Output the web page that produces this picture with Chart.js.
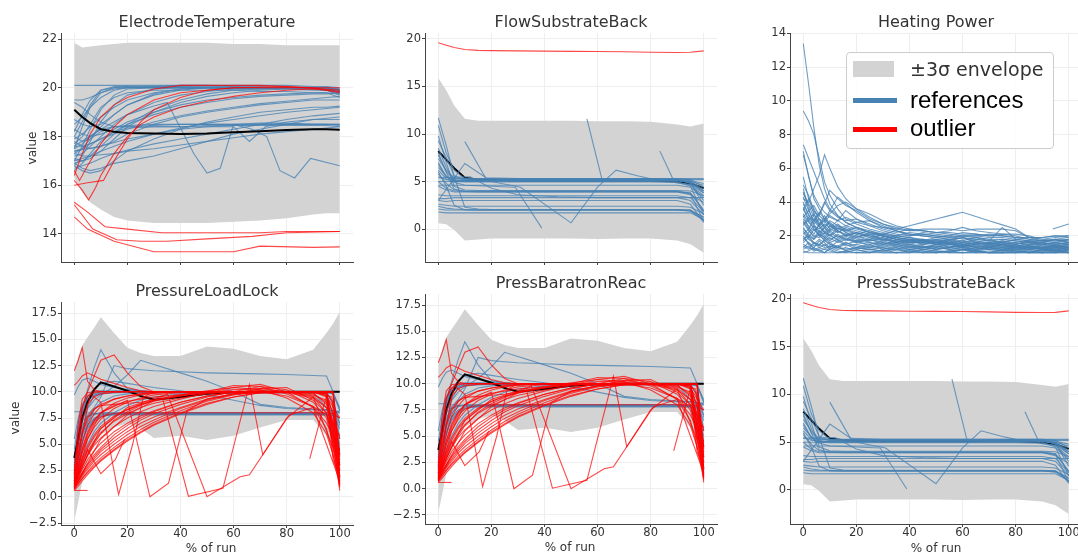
<!DOCTYPE html>
<html>
<head>
<meta charset="utf-8">
<script src="https://cdn.jsdelivr.net/npm/chart.js@4.4.1/dist/chart.umd.min.js"></script>
<style>
  body { margin: 0; width: 1078px; height: 555px; overflow: hidden; background: #fff; position: relative;
         font-family: "DejaVu Sans", sans-serif; color: #333; }
  canvas { position: absolute; }
  .lbl { position: absolute; transform: translate(-50%, -50%); white-space: nowrap; }
  .title { font-size: 16px; color: #333; }
  .axis { font-size: 12px; color: #333; }
  .ylab { transform: translate(-50%, -50%) rotate(-90deg); }
  #legend { position: absolute; left: 846px; top: 52px; width: 206px; height: 95px; border: 1px solid #cccccc;
            border-radius: 4px; background: rgba(255,255,255,0.85); z-index: 5; }
  #legend div { position: absolute; }
  #legend .txt { transform: translateY(-50%); white-space: nowrap; }
</style>
</head>
<body>

<script>
// ---------- x grids (% of run) ----------
const X_TICKS = [0, 20, 40, 60, 80, 100];
const RUN_PCT = [0, 3, 6, 10, 15, 20, 30, 40, 50, 60, 70, 80, 90, 95, 100];
const PLL_PCT = [0, 1.5, 3, 5, 7.5, 10, 15, 20, 25, 30, 40, 50, 60, 70, 80, 90, 95, 97.5, 100];
const HP_PCT = [0, 2, 4, 6, 8, 10, 13, 16, 20, 25, 30, 35, 40, 45, 50, 55, 60, 65, 70, 75, 80, 85, 90, 95, 100];

// ---------- ElectrodeTemperature ----------
const ET_UPPER = [21.85, 21.65, 21.7, 21.75, 21.8, 21.85, 21.85, 21.85, 21.85, 21.8, 21.8, 21.75, 21.75, 21.75, 21.75];
const ET_LOWER = [16.3, 15.7, 15.3, 15.0, 14.7, 14.55, 14.45, 14.45, 14.45, 14.5, 14.55, 14.65, 14.8, 14.85, 14.85];
const ET_MEAN = [19.1, 18.8, 18.55, 18.3, 18.2, 18.15, 18.12, 18.1, 18.12, 18.18, 18.22, 18.27, 18.3, 18.3, 18.28];
const ET_REFS = [
  [17.5, 18.4, 19.2, 19.8, 20.0, 20.05, 20.05, 20.05, 20.05, 20.05, 20.0, 20.0, 20.0, 19.95, 19.9],
  [18.2, 18.9, 19.5, 19.9, 20.0, 20.0, 20.0, 20.0, 20.0, 20.0, 20.0, 20.0, 19.95, 19.9, 19.8],
  [17.0, 17.6, 18.3, 19.1, 19.7, 19.95, 20.0, 20.05, 20.0, 20.0, 20.0, 20.0, 20.0, 19.9, 19.8],
  [16.8, 17.2, 17.8, 18.6, 19.3, 19.7, 19.95, 20.0, 20.0, 20.0, 20.0, 20.0, 20.0, 19.95, 19.85],
  [18.5, 18.8, 19.2, 19.6, 19.9, 20.0, 20.0, 20.0, 20.0, 20.0, 20.0, 20.0, 20.0, 20.0, 19.9],
  [17.3, 17.5, 17.9, 18.4, 18.9, 19.3, 19.75, 19.95, 20.0, 20.0, 20.0, 20.0, 20.0, 19.95, 19.9],
  [17.9, 18.1, 18.4, 18.8, 19.2, 19.5, 19.8, 19.95, 20.0, 20.0, 20.0, 20.0, 20.0, 20.0, 19.95],
  [17.2, 17.3, 17.6, 18.0, 18.5, 18.9, 19.4, 19.7, 19.85, 19.95, 20.0, 20.0, 20.0, 20.0, 19.9],
  [16.9, 17.0, 17.2, 17.6, 18.1, 18.5, 19.1, 19.5, 19.75, 19.9, 19.95, 20.0, 20.0, 20.0, 19.9],
  [20.1, 20.1, 20.1, 20.1, 20.1, 20.1, 20.1, 20.1, 20.1, 20.1, 20.1, 20.1, 20.05, 20.05, 20.0],
  [19.5, 19.5, 19.6, 19.8, 19.95, 20.0, 20.05, 20.1, 20.1, 20.05, 20.05, 20.0, 20.0, 20.0, 19.95],
  [18.0, 18.6, 19.3, 19.9, 20.05, 20.05, 20.0, 20.0, 20.0, 19.95, 19.95, 19.95, 19.9, 19.9, 19.7],
  [17.7, 18.0, 18.5, 19.2, 19.6, 19.8, 19.9, 19.9, 19.9, 19.9, 19.85, 19.85, 19.8, 19.8, 19.6],
  [17.4, 17.5, 17.7, 17.9, 18.1, 18.3, 18.6, 18.85, 19.05, 19.2, 19.35, 19.45, 19.55, 19.6, 19.65],
  [17.0, 17.1, 17.2, 17.4, 17.6, 17.8, 18.1, 18.35, 18.55, 18.7, 18.85, 19.0, 19.1, 19.15, 19.2],
  [16.7, 16.8, 16.9, 17.1, 17.3, 17.45, 17.7, 17.9, 18.1, 18.3, 18.5, 18.7, 18.85, 18.9, 18.95],
  [17.6, 17.6, 17.7, 17.9, 18.2, 18.5, 18.9, 19.2, 19.4, 19.55, 19.65, 19.7, 19.75, 19.75, 19.8],
  [18.0, 17.8, 17.9, 18.2, 18.4, 18.45, 18.5, 18.5, 18.5, 18.5, 18.5, 18.5, 18.5, 18.5, 18.45],
  [17.5, 17.7, 18.0, 18.3, 18.4, 18.4, 18.4, 18.4, 18.4, 18.45, 18.45, 18.45, 18.45, 18.45, 18.4],
  [16.6, 16.9, 17.3, 17.8, 18.2, 18.35, 18.4, 18.4, 18.45, 18.45, 18.5, 18.5, 18.5, 18.5, 18.5],
  [17.3, 17.2, 17.2, 17.25, 17.3, 17.4, 17.5, 17.65, 17.8, 17.95, 18.1, 18.2, 18.3, 18.35, 18.4],
  [16.9, 16.7, 16.6, 16.7, 16.9, 17.0, 17.2, 17.5, 17.8, 18.1, 18.3, 18.5, 18.7, 18.75, 18.8],
  [19.4, 19.2, 18.9, 18.6, 18.4, 18.4, 18.45, 18.5, 18.5, 18.5, 18.55, 18.55, 18.5, 18.5, 18.5],
  [18.3, 18.1, 18.0, 18.1, 18.3, 18.6, 19.0, 19.3, 19.5, 19.6, 19.7, 19.75, 19.8, 19.8, 19.75],
  [17.8, 17.6, 17.5, 17.6, 17.8, 18.1, 18.5, 18.8, 19.0, 19.15, 19.3, 19.4, 19.5, 19.5, 19.5],
  [16.8, 16.6, 16.5, 16.6, 17.0, 17.4, 17.9, 18.3, 18.6, 18.8, 19.0, 19.1, 19.2, 19.2, 19.25],
  [18.7, 18.5, 18.4, 18.5, 18.9, 19.3, 19.7, 19.9, 20.0, 20.0, 20.0, 20.0, 20.0, 19.95, 19.9],
  [17.1, 17.0, 17.1, 17.4, 17.9, 18.4, 19.0, 19.4, 19.65, 19.8, 19.9, 19.95, 19.95, 19.9, 19.85],
  { x: [0, 10, 20, 30, 35, 45, 50, 55, 60, 67, 72.5, 77.5, 83, 89, 100],
    y: [17.6, 18.3, 18.9, 19.25, 19.4, 17.3, 16.5, 16.7, 18.5, 18.3, 18.0, 16.6, 16.3, 17.1, 16.8] },
  { x: [0, 10, 20, 30, 40, 50, 60, 66, 72, 80, 90, 100],
    y: [17.4, 17.6, 17.9, 18.1, 18.3, 18.4, 18.4, 17.8, 18.4, 18.6, 18.7, 18.7] }
];
const ET_OUTLIERS = [
  [16.4, 17.3, 18.1, 18.8, 19.3, 19.6, 19.95, 20.1, 20.1, 20.1, 20.1, 20.05, 20.0, 19.9, 19.8],
  { x: [0, 3, 5.4, 8, 10, 15, 20, 25, 30, 40, 50, 60, 70, 80, 90, 100],
    y: [16.2, 15.8, 15.4, 15.9, 16.4, 17.3, 18.0, 18.5, 18.8, 19.2, 19.45, 19.65, 19.8, 19.9, 19.95, 19.85] },
  { x: [0, 5, 11, 15, 20, 25, 30, 40, 50, 60, 80, 100],
    y: [16.0, 16.1, 16.2, 17.0, 17.9, 18.6, 19.1, 19.6, 19.9, 20.0, 20.05, 19.9] },
  { x: [0, 2, 5, 10, 15, 20, 30, 40, 60, 100],
    y: [16.6, 16.2, 16.8, 17.7, 18.4, 18.9, 19.5, 19.8, 20.0, 20.0] },
  { x: [0, 5, 11.6, 20, 33, 50, 70, 80, 100], y: [15.3, 14.9, 14.3, 14.2, 14.05, 14.05, 14.05, 14.1, 14.1] },
  { x: [0, 7, 16, 25, 35, 50, 67, 80, 100], y: [15.2, 14.2, 13.76, 13.7, 13.7, 13.8, 13.9, 14.05, 14.1] },
  { x: [0, 5, 15, 30, 60, 70, 90, 100], y: [14.7, 14.2, 13.7, 13.27, 13.27, 13.5, 13.45, 13.47] }
];

// ---------- FlowSubstrateBack / PressSubstrateBack ----------
const FSB_UPPER = [15.9, 14.6, 13.0, 11.6, 11.4, 11.4, 11.4, 11.4, 11.4, 11.35, 11.35, 11.3, 11.0, 10.8, 11.1];
const FSB_LOWER = [0.6, 0.5, -0.1, -1.2, -1.1, -1.0, -1.0, -1.0, -1.0, -1.05, -1.0, -1.0, -1.2, -1.6, -2.5];
const FSB_MEAN = [8.2, 7.3, 6.4, 5.4, 5.2, 5.15, 5.1, 5.1, 5.1, 5.1, 5.1, 5.1, 5.0, 4.8, 4.3];
const FSB_REFS = [
  [11.7, 8.8, 5.5, 2.3, 2.1, 2.05, 2.05, 2.05, 2.05, 2.05, 2.05, 2.05, 2.05, 2.0, 1.2],
  [10.9, 8.0, 6.2, 5.3, 5.25, 5.25, 5.25, 5.25, 5.25, 5.25, 5.25, 5.25, 5.2, 5.0, 4.2],
  [9.3, 7.5, 5.6, 5.2, 5.2, 5.2, 5.2, 5.2, 5.2, 5.2, 5.2, 5.2, 5.2, 4.8, 3.0],
  [8.5, 6.5, 5.0, 5.1, 5.1, 5.1, 5.1, 5.1, 5.1, 5.1, 5.1, 5.1, 5.1, 4.9, 2.5],
  [7.8, 6.0, 5.2, 5.0, 5.0, 5.0, 5.0, 5.0, 5.0, 5.0, 5.0, 5.0, 5.0, 4.5, 1.5],
  [7.0, 5.5, 5.1, 5.05, 5.05, 5.05, 5.05, 5.05, 5.05, 5.05, 5.05, 5.05, 5.05, 5.0, 4.6],
  [6.2, 5.3, 5.0, 4.95, 4.95, 4.95, 4.95, 4.95, 4.95, 4.95, 4.95, 4.95, 4.9, 4.7, 3.8],
  [5.8, 4.8, 4.1, 4.0, 4.0, 4.0, 4.0, 4.0, 4.0, 4.0, 4.0, 4.0, 4.0, 3.8, 2.0],
  [5.0, 4.3, 4.0, 3.95, 3.95, 3.95, 3.95, 3.95, 3.95, 3.95, 3.95, 3.95, 3.95, 3.7, 0.8],
  [4.5, 4.1, 3.9, 3.9, 3.9, 3.9, 3.9, 3.9, 3.9, 3.9, 3.9, 3.9, 3.9, 3.6, 2.8],
  [3.6, 3.5, 3.5, 3.5, 3.5, 3.5, 3.5, 3.5, 3.5, 3.5, 3.5, 3.5, 3.5, 3.3, 1.8],
  [3.2, 3.2, 3.3, 3.3, 3.3, 3.3, 3.3, 3.3, 3.3, 3.3, 3.3, 3.3, 3.3, 3.0, 1.5],
  [3.0, 2.9, 3.0, 3.0, 3.0, 3.0, 3.0, 3.0, 3.0, 3.0, 3.0, 3.0, 3.0, 2.6, 0.7],
  [2.4, 2.2, 2.1, 2.05, 2.0, 2.0, 2.0, 2.0, 2.0, 2.0, 2.0, 2.0, 2.0, 1.9, 1.3],
  [2.1, 2.0, 2.0, 2.0, 2.0, 2.0, 2.0, 2.0, 2.0, 2.0, 2.0, 2.0, 2.0, 2.0, 1.0],
  [1.8, 1.7, 1.7, 1.7, 1.7, 1.7, 1.7, 1.7, 1.7, 1.7, 1.7, 1.7, 1.7, 1.7, 1.0],
  [2.6, 2.5, 2.4, 2.4, 2.4, 2.4, 2.4, 2.4, 2.4, 2.4, 2.4, 2.4, 2.4, 2.3, 1.6],
  [6.8, 5.5, 5.3, 5.3, 5.3, 5.3, 5.3, 5.3, 5.3, 5.3, 5.3, 5.3, 5.3, 5.2, 4.4],
  [4.6, 4.6, 4.6, 4.6, 4.6, 4.6, 4.6, 4.6, 4.6, 4.6, 4.6, 4.6, 4.6, 4.4, 3.3],
  [9.8, 7.0, 4.5, 4.1, 4.05, 4.05, 4.05, 4.05, 4.05, 4.05, 4.05, 4.05, 4.05, 4.0, 3.5],
  [7.4, 6.2, 5.4, 5.15, 5.15, 5.15, 5.15, 5.15, 5.15, 5.15, 5.15, 5.15, 5.15, 5.1, 4.8],
  [5.5, 5.2, 5.1, 5.1, 5.1, 5.1, 5.1, 5.1, 5.1, 5.1, 5.1, 5.1, 5.1, 5.0, 4.0],
  [8.0, 6.0, 4.2, 3.95, 3.9, 3.9, 3.9, 3.9, 3.9, 3.9, 3.9, 3.9, 3.9, 3.8, 1.9],
  [6.0, 4.5, 2.5, 2.0, 2.0, 2.0, 2.0, 2.0, 2.0, 2.0, 2.0, 2.0, 2.0, 1.9, 0.9],
  { x: [10, 18, 25, 100], y: [9.2, 5.3, 5.2, 5.2] },
  { x: [0, 5, 10, 20, 29, 39], y: [6.5, 5.0, 4.6, 4.5, 4.4, 0.1] },
  { x: [0, 10, 20, 31, 50, 60, 67, 75, 80, 90, 95, 100], y: [5.0, 5.0, 5.0, 4.4, 0.65, 4.4, 6.2, 5.6, 5.3, 5.1, 4.9, 4.0] },
  { x: [56, 61.7, 70, 80, 90, 95, 100], y: [11.6, 5.2, 5.1, 5.1, 5.1, 4.9, 3.8] },
  { x: [83.5, 89, 95, 100], y: [8.2, 4.9, 4.6, 3.5] },
  { x: [0, 10, 18, 30, 100], y: [3.0, 6.9, 5.4, 5.3, 5.3] },
  { x: [0, 12, 20, 30, 45, 60, 100], y: [5.4, 5.5, 4.3, 3.6, 3.4, 3.3, 3.3] }
];
const FSB_OUTLIERS = [
  [19.6, 19.35, 19.1, 18.9, 18.8, 18.78, 18.75, 18.72, 18.7, 18.68, 18.65, 18.6, 18.58, 18.6, 18.75]
];

// ---------- Heating Power ----------
const HP_REFS = [
  [13.4, 11.0, 8.4, 6.2, 4.8, 3.9, 3.2, 2.8, 2.5, 2.2, 2.0, 1.8, 1.7, 1.6, 1.5, 1.6, 1.5, 1.4, 1.5, 1.4, 1.3, 1.4, 1.3, 1.3, 1.4],
  [9.4, 8.8, 8.0, 6.6, 5.2, 4.4, 3.6, 3.0, 2.7, 2.4, 2.2, 2.0, 1.9, 1.8, 1.7, 1.8, 1.9, 1.7, 1.6, 1.7, 1.6, 1.5, 1.5, 1.4, 1.5],
  [7.4, 6.6, 5.8, 5.0, 4.2, 3.6, 3.2, 2.8, 2.5, 2.3, 2.1, 2.0, 2.2, 2.1, 2.0, 1.9, 2.0, 1.9, 1.8, 1.8, 1.7, 1.6, 1.6, 1.5, 1.6],
  [7.0, 5.5, 4.4, 3.8, 3.4, 3.1, 2.9, 2.6, 2.4, 2.2, 2.0, 1.9, 1.8, 1.7, 1.6, 1.6, 1.5, 1.6, 1.5, 1.4, 1.4, 1.3, 1.3, 1.2, 1.3],
  [4.2, 4.0, 4.8, 5.6, 6.8, 6.0, 4.9, 4.2, 3.6, 3.3, 2.9, 2.6, 2.4, 2.3, 2.2, 2.1, 2.0, 2.0, 1.9, 1.9, 1.8, 1.7, 1.7, 1.6, 1.7],
  [4.5, 3.9, 3.4, 3.2, 3.9, 4.7, 4.2, 3.8, 3.5, 3.0, 2.7, 2.4, 2.3, 2.3, 2.2, 2.2, 2.1, 2.1, 2.0, 2.0, 1.9, 1.8, 1.7, 1.7, 1.8],
  [4.0, 3.2, 2.9, 3.4, 3.0, 3.3, 3.8, 4.0, 3.6, 3.1, 2.7, 2.5, 2.3, 2.4, 2.4, 2.4, 2.3, 2.4, 2.4, 2.4, 2.3, 1.9, 1.9, 2.0, 2.0],
  [3.7, 3.0, 2.6, 2.4, 2.7, 2.5, 2.9, 3.1, 2.8, 2.6, 2.5, 2.3, 2.1, 2.0, 1.9, 2.0, 1.8, 1.9, 1.7, 1.8, 1.7, 1.6, 1.5, 1.6, 1.5],
  [3.3, 2.8, 2.5, 2.3, 2.1, 2.4, 2.2, 2.5, 2.3, 2.1, 2.0, 1.8, 1.7, 1.6, 1.7, 1.5, 1.6, 1.5, 1.4, 1.5, 1.4, 1.4, 1.3, 1.4, 1.3],
  [3.0, 2.6, 2.3, 2.6, 2.2, 2.0, 2.3, 2.1, 1.9, 2.2, 2.0, 1.8, 1.6, 1.7, 1.5, 1.6, 1.4, 1.5, 1.6, 1.4, 1.5, 1.3, 1.4, 1.3, 1.4],
  [2.8, 2.3, 2.0, 1.9, 2.2, 1.8, 2.0, 1.8, 1.7, 1.8, 1.6, 1.5, 1.7, 1.5, 1.4, 1.5, 1.3, 1.4, 1.3, 1.4, 1.3, 1.2, 1.3, 1.2, 1.3],
  [2.5, 2.0, 1.8, 2.1, 1.7, 1.9, 1.6, 1.8, 1.6, 1.5, 1.7, 1.5, 1.4, 1.3, 1.5, 1.4, 1.3, 1.2, 1.4, 1.3, 1.2, 1.3, 1.2, 1.1, 1.2],
  [2.2, 1.8, 1.6, 1.5, 1.7, 1.5, 1.4, 1.6, 1.4, 1.3, 1.4, 1.3, 1.2, 1.3, 1.2, 1.3, 1.2, 1.1, 1.2, 1.1, 1.2, 1.1, 1.1, 1.2, 1.1],
  [1.9, 1.6, 1.4, 1.5, 1.3, 1.4, 1.3, 1.2, 1.3, 1.2, 1.1, 1.2, 1.1, 1.2, 1.1, 1.1, 1.2, 1.1, 1.0, 1.1, 1.0, 1.1, 1.0, 1.1, 1.0],
  [1.5, 1.3, 1.2, 1.1, 1.2, 1.1, 1.0, 1.1, 1.0, 1.1, 1.0, 1.0, 1.1, 1.0, 1.0, 1.1, 1.0, 1.0, 1.0, 1.0, 1.0, 1.0, 1.0, 1.0, 1.0],
  [1.1, 1.0, 1.0, 1.0, 1.0, 1.0, 1.0, 1.0, 1.0, 1.0, 1.0, 1.0, 1.0, 1.0, 1.0, 1.0, 1.0, 1.0, 1.0, 1.0, 1.0, 1.0, 1.0, 1.0, 1.0],
  [5.5, 4.2, 3.3, 2.8, 2.5, 2.9, 2.6, 2.4, 2.2, 2.0, 1.9, 1.7, 1.6, 1.8, 1.6, 1.7, 1.5, 1.6, 1.5, 1.6, 1.4, 1.5, 1.4, 1.3, 1.4],
  [4.3, 3.5, 3.8, 3.2, 2.9, 3.5, 4.3, 3.9, 3.4, 2.9, 2.6, 2.3, 2.1, 2.0, 1.9, 1.8, 1.9, 1.8, 1.7, 2.5, 1.8, 1.9, 1.7, 1.8, 1.9],
  [3.5, 4.2, 3.6, 3.0, 2.8, 3.2, 2.9, 3.5, 3.0, 2.7, 2.4, 2.2, 2.4, 2.3, 2.2, 2.3, 2.5, 2.3, 2.2, 2.1, 2.1, 2.0, 1.8, 1.7, 1.8],
  [2.6, 3.1, 2.7, 3.0, 2.5, 2.8, 2.4, 2.6, 2.8, 2.9, 2.5, 2.4, 2.6, 2.8, 3.0, 3.2, 3.4, 3.15, 2.9, 2.65, 2.4, 1.9, 1.8, 1.9, 2.0],
  [3.2, 2.5, 2.1, 2.7, 2.3, 2.0, 2.5, 2.2, 2.0, 1.8, 2.1, 1.9, 1.7, 1.8, 1.6, 1.7, 1.9, 1.6, 1.5, 1.7, 1.5, 1.6, 1.4, 1.5, 1.4],
  [1.7, 2.2, 2.6, 2.0, 1.8, 2.1, 1.7, 1.9, 1.6, 1.8, 1.5, 1.6, 1.4, 1.5, 1.6, 1.3, 1.5, 1.4, 1.3, 1.5, 1.3, 1.4, 1.2, 1.5, 1.6],
  [2.0, 1.5, 1.3, 1.7, 1.4, 1.6, 1.3, 1.5, 1.2, 1.4, 1.3, 1.2, 1.4, 1.2, 1.3, 1.2, 1.1, 1.3, 1.2, 1.1, 1.3, 1.2, 1.1, 1.3, 1.2],
  [1.3, 1.6, 1.2, 1.3, 1.5, 1.2, 1.4, 1.1, 1.3, 1.2, 1.1, 1.3, 1.0, 1.2, 1.1, 1.0, 1.2, 1.1, 1.0, 1.2, 1.1, 1.0, 1.1, 1.0, 1.1],
  [4.8, 3.6, 2.8, 3.3, 4.0, 3.5, 3.1, 2.9, 3.0, 2.6, 2.3, 2.1, 2.0, 2.1, 2.0, 1.9, 2.0, 2.0, 2.1, 2.0, 1.9, 1.9, 1.9, 2.0, 1.9],
  [6.8, 5.6, 4.2, 3.6, 3.0, 2.7, 2.4, 2.3, 2.1, 1.9, 1.8, 1.7, 1.6, 1.6, 1.5, 1.5, 1.4, 1.4, 1.4, 1.3, 1.3, 1.3, 1.2, 1.2, 1.3],
  [2.9, 2.4, 3.0, 2.6, 3.2, 2.7, 2.3, 2.0, 2.2, 1.9, 1.7, 1.9, 1.8, 1.6, 1.8, 1.7, 1.6, 1.8, 1.7, 1.6, 1.5, 1.7, 1.6, 1.5, 1.6],
  [1.6, 1.9, 1.5, 1.8, 1.6, 1.3, 1.7, 1.4, 1.5, 1.3, 1.5, 1.4, 1.3, 1.4, 1.2, 1.4, 1.3, 1.2, 1.3, 1.2, 1.4, 1.3, 1.2, 1.4, 1.3],
  [2.3, 1.9, 2.4, 2.0, 2.5, 2.2, 1.9, 2.1, 1.8, 1.7, 1.8, 1.6, 1.5, 1.7, 1.5, 1.6, 1.4, 1.5, 1.6, 1.5, 1.4, 1.5, 1.6, 1.4, 1.5],
  [3.9, 3.3, 2.7, 2.2, 2.5, 2.0, 1.8, 2.0, 1.7, 1.6, 1.5, 1.7, 1.5, 1.4, 1.3, 1.5, 1.4, 1.3, 1.2, 1.3, 1.2, 1.3, 1.2, 1.1, 1.2],
  [2.7, 2.9, 2.4, 2.1, 1.9, 2.3, 2.0, 1.7, 1.9, 1.6, 1.4, 1.5, 1.3, 1.4, 1.2, 1.3, 1.4, 1.2, 1.3, 1.1, 1.2, 1.2, 1.1, 1.2, 1.1],
  [1.4, 1.2, 1.6, 1.3, 1.2, 1.4, 1.2, 1.3, 1.1, 1.2, 1.3, 1.1, 1.2, 1.1, 1.0, 1.1, 1.2, 1.0, 1.1, 1.0, 1.1, 1.0, 1.2, 1.1, 1.0],
  [2.1, 2.4, 1.9, 2.3, 2.0, 1.7, 2.1, 1.8, 2.0, 1.7, 1.9, 1.6, 1.8, 1.7, 1.6, 1.8, 1.6, 1.7, 1.5, 1.6, 1.5, 1.7, 1.5, 1.6, 1.8],
  [3.6, 2.9, 3.3, 2.6, 2.9, 2.4, 2.7, 2.3, 2.5, 2.2, 2.1, 2.3, 2.0, 2.2, 2.1, 2.0, 2.2, 2.1, 2.0, 2.1, 2.0, 1.8, 1.7, 1.8, 1.7],
  [1.2, 1.4, 1.1, 1.2, 1.0, 1.3, 1.1, 1.0, 1.2, 1.0, 1.1, 1.0, 1.0, 1.1, 1.0, 1.1, 1.0, 1.1, 1.0, 1.0, 1.1, 1.0, 1.0, 1.1, 1.0],
  [4.6, 3.8, 3.1, 2.7, 3.0, 2.6, 2.2, 2.4, 2.1, 2.3, 2.0, 1.8, 1.9, 1.7, 1.8, 1.6, 1.7, 1.5, 1.6, 1.5, 1.6, 1.4, 1.5, 1.4, 1.5],
  [2.4, 2.1, 1.8, 2.2, 1.9, 1.6, 1.8, 1.5, 1.7, 1.4, 1.6, 1.4, 1.5, 1.3, 1.4, 1.3, 1.5, 1.3, 1.4, 1.2, 1.3, 1.4, 1.3, 1.2, 1.3],
  [1.8, 2.0, 1.6, 1.4, 1.8, 1.5, 1.3, 1.6, 1.3, 1.5, 1.2, 1.4, 1.2, 1.3, 1.4, 1.2, 1.3, 1.1, 1.3, 1.2, 1.1, 1.2, 1.3, 1.1, 1.2],
  [3.1, 3.5, 2.9, 2.5, 2.2, 2.6, 2.3, 2.0, 2.2, 2.0, 1.8, 2.0, 1.9, 1.7, 1.9, 1.8, 1.7, 1.9, 1.8, 1.6, 1.8, 1.7, 1.6, 1.8, 1.6],
  [5.0, 4.4, 3.5, 3.0, 2.6, 2.3, 2.6, 2.2, 1.9, 2.1, 1.8, 1.6, 1.8, 1.5, 1.7, 1.5, 1.4, 1.6, 1.4, 1.5, 1.3, 1.4, 1.3, 1.4, 1.2],
  [1.0, 1.1, 1.3, 1.1, 1.0, 1.2, 1.0, 1.1, 1.0, 1.0, 1.2, 1.0, 1.1, 1.0, 1.1, 1.0, 1.0, 1.1, 1.0, 1.0, 1.0, 1.1, 1.0, 1.0, 1.1],
  { x: [94, 100], y: [2.4, 2.7] }
];

// ---------- PressureLoadLock / PressBaratronReac ----------
const PLL_UPPER = [11.9, 13.3, 14.4, 15.2, 16.1, 17.1, 15.6, 14.2, 13.7, 13.4, 13.4, 14.3, 14.1, 13.4, 13.1, 14.0, 15.6, 16.5, 17.6];
const PLL_LOWER = [-2.3, -0.5, 1.4, 3.5, 4.9, 5.9, 6.6, 7.0, 6.5, 5.6, 5.8, 5.4, 5.8, 6.6, 7.3, 7.3, 5.8, 4.8, 3.8];
const PLL_MEAN = [3.7, 5.5, 7.5, 9.0, 10.2, 10.9, 10.5, 10.1, 9.6, 9.25, 9.5, 9.8, 9.95, 10.0, 10.0, 10.0, 10.0, 10.0, 10.0];
const PLL_REFS = [
  [2.0, 5.5, 8.0, 9.3, 9.8, 10.0, 10.0, 10.0, 10.0, 10.0, 10.0, 10.0, 10.0, 10.0, 10.0, 10.0, 9.9, 9.8, 8.2],
  [3.5, 6.5, 8.3, 9.2, 9.6, 9.8, 9.9, 9.9, 9.9, 9.9, 9.9, 9.9, 9.9, 9.9, 9.9, 9.9, 9.8, 6.0, 4.5],
  [2.5, 5.0, 6.8, 7.6, 7.9, 8.0, 7.95, 7.9, 7.9, 7.9, 7.9, 7.9, 7.9, 7.9, 7.9, 7.9, 7.85, 7.8, 5.0],
  [4.0, 6.0, 7.2, 7.7, 7.9, 7.9, 7.85, 7.85, 7.85, 7.85, 7.85, 7.85, 7.85, 7.85, 7.85, 7.85, 7.8, 7.7, 4.2],
  [1.8, 3.5, 5.2, 6.6, 7.4, 7.7, 7.8, 7.8, 7.8, 7.8, 7.8, 7.8, 7.8, 7.8, 7.8, 7.8, 7.8, 7.75, 6.5],
  [3.0, 4.5, 6.0, 7.2, 7.8, 8.0, 8.0, 8.0, 8.0, 8.0, 8.0, 8.0, 8.0, 8.0, 8.0, 8.0, 7.95, 7.9, 8.0],
  [9.7, 10.5, 11.1, 11.3, 11.0, 10.7, 10.4, 10.2, 10.1, 10.0, 10.0, 10.0, 10.0, 10.0, 10.0, 10.0, 10.0, 9.8, 8.5],
  [2.2, 5.0, 6.5, 7.8, 8.5, 9.5, 12.5, 12.2, 12.1, 12.0, 11.9, 11.8, 11.75, 11.7, 11.65, 11.55, 11.5, 10.0, 8.3],
  [3.0, 6.0, 8.5, 10.2, 12.3, 14.0, 11.8, 10.3, 10.1, 10.0, 10.0, 10.0, 10.0, 10.0, 10.0, 10.0, 9.9, 9.0, 7.0],
  [2.8, 5.5, 7.2, 8.4, 9.2, 9.7, 10.5, 11.6, 13.0, 12.6, 11.8, 11.0, 10.0, 8.8, 8.5, 8.35, 8.3, 8.2, 8.0],
  [3.2, 6.0, 8.0, 9.5, 10.3, 10.8, 11.0, 10.8, 10.6, 10.4, 10.1, 9.7, 9.2, 8.7, 8.4, 8.3, 8.25, 8.2, 8.1],
  [4.5, 7.0, 8.6, 9.6, 10.0, 10.1, 10.05, 10.0, 10.0, 10.0, 10.0, 10.0, 10.0, 10.0, 10.0, 10.0, 9.95, 9.9, 5.5],
  [1.5, 3.2, 5.0, 7.0, 8.3, 9.0, 9.6, 9.8, 9.9, 9.9, 9.95, 9.95, 9.95, 9.95, 9.95, 9.95, 9.9, 7.5, 4.0],
  [5.5, 7.5, 8.8, 9.4, 9.7, 9.85, 9.9, 9.95, 9.95, 9.95, 9.95, 9.95, 9.95, 9.95, 9.95, 9.9, 8.5, 8.0, 8.2],
  [8.1, 8.1, 8.1, 8.0, 7.95, 7.9, 7.9, 7.9, 7.9, 7.9, 7.9, 7.9, 7.9, 7.9, 7.9, 7.9, 7.9, 7.8, 7.5],
  [3.8, 4.8, 5.8, 6.8, 7.5, 7.8, 7.9, 7.9, 7.9, 7.9, 7.9, 7.9, 7.9, 7.9, 7.9, 7.9, 7.9, 6.0, 4.8],
  [1.2, 2.5, 3.8, 5.0, 6.2, 7.0, 8.0, 8.7, 9.2, 9.5, 9.8, 9.9, 9.9, 9.9, 9.9, 9.9, 9.85, 9.0, 6.8],
  [2.2, 4.0, 5.5, 6.5, 7.2, 7.6, 7.9, 8.0, 8.0, 8.0, 8.0, 8.0, 8.0, 8.0, 8.0, 8.0, 7.9, 5.5, 3.0],
  [0.8, 3.0, 6.0, 8.5, 9.6, 10.0, 10.1, 10.1, 10.05, 10.0, 10.0, 10.0, 10.0, 10.0, 10.0, 10.0, 10.0, 10.0, 10.0]
];
const PLL_OUTLIERS = [
  [0.8, 1.3, 1.8, 2.4, 3.1, 3.7, 4.7, 5.6, 6.4, 7.1, 8.2, 9.1, 9.7, 10.0, 10.0, 10.0, 9.9, 6.5, 1.5],
  [1.0, 1.8, 2.6, 3.5, 4.4, 5.1, 6.2, 7.0, 7.7, 8.2, 9.0, 9.6, 9.95, 10.05, 10.0, 9.9, 9.8, 5.0, 1.2],
  [1.2, 2.4, 3.6, 4.8, 5.9, 6.7, 7.7, 8.3, 8.8, 9.1, 9.6, 9.9, 10.0, 10.0, 10.0, 10.0, 10.0, 3.5, 2.0],
  [1.5, 3.5, 5.2, 6.8, 7.9, 8.6, 9.3, 9.6, 9.8, 9.9, 10.0, 10.0, 10.0, 10.0, 10.0, 10.0, 10.0, 9.9, 2.5],
  [2.0, 5.0, 7.3, 8.8, 9.5, 9.8, 9.95, 10.0, 10.0, 10.0, 10.0, 10.0, 10.0, 10.0, 10.0, 10.0, 10.0, 10.0, 3.0],
  [0.9, 1.6, 2.2, 3.0, 3.8, 4.5, 5.6, 6.5, 7.3, 7.9, 8.8, 9.5, 10.0, 10.5, 10.2, 9.0, 7.5, 5.0, 1.0],
  [1.1, 2.0, 2.9, 3.9, 4.9, 5.6, 6.7, 7.5, 8.1, 8.6, 9.3, 9.9, 10.4, 10.7, 10.0, 8.5, 6.5, 4.0, 1.4],
  [0.7, 2.8, 4.6, 6.2, 7.3, 8.0, 8.7, 9.1, 9.3, 9.5, 9.7, 9.9, 10.2, 10.3, 10.0, 9.6, 8.5, 6.5, 2.0],
  [2.5, 6.0, 8.5, 9.6, 9.9, 10.0, 10.0, 10.0, 10.0, 10.0, 10.0, 10.0, 10.0, 10.0, 10.0, 10.0, 9.95, 9.9, 1.8],
  [1.8, 4.2, 6.2, 7.6, 8.4, 8.7, 8.8, 8.9, 9.0, 9.2, 9.6, 10.0, 10.6, 10.5, 9.8, 8.6, 7.0, 5.8, 4.5],
  [12.0, 13.0, 14.2, 11.0, 10.2, 10.0, 10.0, 10.0, 10.0, 10.0, 10.0, 10.0, 10.0, 10.0, 10.0, 10.0, 10.0, 10.0, 3.8],
  [10.6, 11.0, 11.5, 11.8, 11.5, 11.2, 10.8, 10.4, 10.1, 10.0, 10.0, 10.0, 10.0, 10.0, 10.0, 10.0, 9.8, 7.8, 5.5],
  [1.5, 5.0, 8.5, 10.0, 11.5, 13.0, 13.5, 11.8, 10.5, 10.0, 10.0, 10.0, 10.0, 10.0, 10.0, 9.9, 8.8, 7.2, 4.0],
  [0.6, 1.0, 1.5, 2.1, 2.8, 3.4, 4.4, 5.3, 6.1, 6.8, 7.9, 8.8, 9.5, 9.9, 10.0, 9.8, 9.0, 6.0, 0.6],
  [1.0, 2.5, 4.2, 5.8, 7.0, 7.6, 7.95, 8.0, 8.0, 8.0, 8.0, 8.0, 8.0, 8.0, 8.0, 8.0, 8.0, 7.9, 7.5],
  [1.3, 2.2, 3.2, 4.3, 5.3, 6.1, 7.2, 7.9, 8.5, 8.9, 9.4, 9.8, 10.0, 10.1, 10.0, 9.5, 8.0, 5.5, 2.5],
  [1.4, 3.0, 4.5, 6.0, 7.2, 8.0, 8.9, 9.4, 9.7, 9.85, 10.0, 10.0, 10.0, 10.0, 10.0, 10.0, 10.0, 6.0, 3.2],
  [0.9, 1.9, 2.9, 4.0, 5.1, 6.0, 7.3, 8.1, 8.7, 9.2, 9.7, 10.0, 10.0, 10.0, 10.0, 10.0, 9.6, 4.5, 1.6],
  [2.2, 7.0, 9.3, 9.9, 10.0, 10.0, 10.0, 10.0, 10.0, 10.0, 10.0, 10.0, 10.0, 10.0, 10.0, 10.0, 10.0, 10.0, 4.0],
  [1.0, 2.2, 3.4, 4.6, 5.7, 6.5, 7.6, 8.3, 8.8, 9.2, 9.7, 10.1, 10.4, 10.2, 9.4, 8.0, 6.0, 4.0, 0.9],
  [0.7, 1.2, 1.7, 2.3, 2.9, 3.5, 4.5, 5.4, 6.2, 6.9, 8.0, 8.9, 9.5, 9.9, 9.9, 9.4, 8.5, 7.0, 1.3],
  [1.7, 4.0, 6.0, 7.4, 8.3, 8.8, 9.3, 9.6, 9.8, 9.9, 10.0, 10.0, 10.0, 10.0, 9.6, 8.6, 7.8, 6.9, 5.8],
  [1.1, 1.7, 2.3, 3.1, 4.0, 4.7, 5.9, 6.8, 7.5, 8.1, 9.0, 9.6, 10.0, 10.1, 10.0, 9.7, 9.2, 7.0, 3.0],
  [0.8, 1.5, 2.1, 2.8, 3.6, 4.3, 5.3, 6.2, 7.0, 7.6, 8.5, 9.3, 9.8, 10.3, 10.4, 9.2, 8.0, 5.0, 2.2],
  [1.3, 2.9, 4.2, 5.5, 6.6, 7.4, 8.4, 9.0, 9.4, 9.7, 9.9, 10.0, 10.0, 10.0, 10.0, 10.0, 10.0, 8.8, 3.5],
  [0.9, 1.4, 2.0, 2.6, 3.4, 4.0, 5.0, 5.9, 6.7, 7.3, 8.4, 9.2, 9.8, 10.0, 10.0, 10.0, 9.5, 8.0, 1.1],
  { x: [0, 3, 6, 10, 16.7, 22, 26, 30, 40, 60, 90, 95, 100], y: [1.2, 6.0, 9.8, 9.0, 0.2, 5.0, 9.5, 10.0, 10.0, 10.0, 10.0, 9.8, 2.0] },
  { x: [0, 5, 10, 20, 28.5, 35.5, 42.5, 50, 60, 90, 97, 100], y: [0.9, 5.5, 8.0, 9.2, 0.0, 1.3, 8.2, 9.3, 9.8, 10.0, 9.5, 1.8] },
  { x: [0, 5, 10, 20, 33, 43, 56, 66, 71, 80, 90, 100], y: [1.0, 4.0, 6.5, 8.5, 9.6, 0.05, 0.8, 10.7, 4.0, 7.5, 9.5, 3.0] },
  { x: [0, 5, 10, 20, 35, 50, 62.5, 66, 71, 81, 90, 100], y: [0.8, 3.2, 5.5, 7.8, 9.8, 0.0, 1.9, 2.1, 4.0, 7.8, 8.5, 1.5] },
  { x: [0, 5, 10, 15.4, 19], y: [1.1, 4.5, 2.2, 3.5, 5.5] },
  { x: [88.7, 95, 100], y: [3.6, 9.6, 7.5] },
  { x: [0, 5], y: [0.6, 0.6] }
];

// ---------- panel layout ----------
const AXIS_W = 50, PAD_T = 12, PAD_R = 16, AXIS_H = 24;

function toPoints(grid, s) {
  if (Array.isArray(s)) return s.map((y, i) => ({ x: grid[i], y }));
  return s.x.map((x, i) => ({ x, y: s.y[i] }));
}

function line(points, color, width, order) {
  return { data: points, borderColor: color, borderWidth: width, pointRadius: 0, fill: false, tension: 0, order };
}

function fmtTick(v, dec) {
  return v.toFixed(dec).replace('-', '\u2212');
}

function drawPanel(p) {
  const canvas = document.createElement('canvas');
  const w = AXIS_W + (p.right - p.left) + PAD_R;
  const h = PAD_T + (p.bottom - p.top) + AXIS_H;
  canvas.width = w;
  canvas.height = h;
  canvas.style.left = (p.left - AXIS_W) + 'px';
  canvas.style.top = (p.top - PAD_T) + 'px';
  document.body.appendChild(canvas);

  const datasets = [];
  if (p.upper) {
    datasets.push({ data: toPoints(p.grid, p.upper), borderWidth: 0, pointRadius: 0, fill: false, order: 100 });
    datasets.push({ data: toPoints(p.grid, p.lower), borderWidth: 0, pointRadius: 0, fill: '-1',
                    backgroundColor: '#d3d3d3', order: 100 });
  }
  p.refs.forEach(s => datasets.push(line(toPoints(p.grid, s), 'rgba(70,130,180,0.78)', 1.1, 50)));
  if (p.mean) datasets.push(line(toPoints(p.grid, p.mean), '#000000', 2, p.meanOrder));
  p.outliers.forEach(s => datasets.push(line(toPoints(p.grid, s), 'rgba(255,0,0,0.72)', 1.1, 20)));

  new Chart(canvas, {
    type: 'line',
    data: { datasets },
    options: {
      responsive: false,
      animation: false,
      events: [],
      layout: { padding: { top: PAD_T, right: PAD_R, left: 0, bottom: 0 } },
      plugins: { legend: { display: false }, tooltip: { enabled: false } },
      scales: {
        x: {
          type: 'linear', min: -5, max: 105,
          afterBuildTicks: ax => { ax.ticks = X_TICKS.map(v => ({ value: v })); },
          afterFit: ax => { ax.height = AXIS_H; },
          grid: { color: '#eeeeee', tickColor: '#444', tickLength: 3 },
          border: { color: '#444', width: 1 },
          ticks: { display: p.xLabels, color: '#333', padding: -1, maxRotation: 0,
                   font: { family: 'DejaVu Sans', size: 11.5 } }
        },
        y: {
          type: 'linear', min: p.yMin, max: p.yMax,
          afterBuildTicks: ax => { ax.ticks = p.yTicks.map(v => ({ value: v })); },
          afterFit: ax => { ax.width = AXIS_W; },
          grid: { color: '#eeeeee', tickColor: '#444', tickLength: 3 },
          border: { color: '#444', width: 1 },
          ticks: { color: '#333', padding: 1, callback: v => fmtTick(v, p.yDec),
                   font: { family: 'DejaVu Sans', size: 11.5 } }
        }
      }
    }
  });
}

function addLabel(text, x, y, cls) {
  const d = document.createElement('div');
  d.className = 'lbl ' + cls;
  d.textContent = text;
  d.style.left = x + 'px';
  d.style.top = y + 'px';
  document.body.appendChild(d);
}

const PLL_TICKS = [-2.5, 0, 2.5, 5, 7.5, 10, 12.5, 15, 17.5];
const FSB_TICKS = [0, 5, 10, 15, 20];

drawPanel({ left: 61, right: 353, top: 33, bottom: 262, yMin: 12.85, yMax: 22.25, yTicks: [14, 16, 18, 20, 22], yDec: 0,
  grid: RUN_PCT, upper: ET_UPPER, lower: ET_LOWER, refs: ET_REFS, mean: ET_MEAN, meanOrder: 30, outliers: ET_OUTLIERS, xLabels: false });
drawPanel({ left: 425, right: 717, top: 33, bottom: 262, yMin: -3.47, yMax: 20.63, yTicks: FSB_TICKS, yDec: 0,
  grid: RUN_PCT, upper: FSB_UPPER, lower: FSB_LOWER, refs: FSB_REFS, mean: FSB_MEAN, meanOrder: 60, outliers: FSB_OUTLIERS, xLabels: false });
drawPanel({ left: 790, right: 1082, top: 33, bottom: 262, yMin: 0.45, yMax: 14.02, yTicks: [2, 4, 6, 8, 10, 12, 14], yDec: 0,
  grid: HP_PCT, refs: HP_REFS, outliers: [], xLabels: false });
drawPanel({ left: 61, right: 353, top: 302, bottom: 525, yMin: -2.69, yMax: 18.55, yTicks: PLL_TICKS, yDec: 1,
  grid: PLL_PCT, upper: PLL_UPPER, lower: PLL_LOWER, refs: PLL_REFS, mean: PLL_MEAN, meanOrder: 30, outliers: PLL_OUTLIERS, xLabels: true });
drawPanel({ left: 425, right: 717, top: 294, bottom: 524, yMin: -3.36, yMax: 18.55, yTicks: PLL_TICKS, yDec: 1,
  grid: PLL_PCT, upper: PLL_UPPER, lower: PLL_LOWER, refs: PLL_REFS, mean: PLL_MEAN, meanOrder: 30, outliers: PLL_OUTLIERS, xLabels: true });
drawPanel({ left: 790, right: 1082, top: 294, bottom: 524, yMin: -3.56, yMax: 20.52, yTicks: FSB_TICKS, yDec: 0,
  grid: RUN_PCT, upper: FSB_UPPER, lower: FSB_LOWER, refs: FSB_REFS, mean: FSB_MEAN, meanOrder: 60, outliers: FSB_OUTLIERS, xLabels: true });

addLabel('ElectrodeTemperature', 207, 21, 'title');
addLabel('FlowSubstrateBack', 571, 21, 'title');
addLabel('Heating Power', 936, 21, 'title');
addLabel('PressureLoadLock', 207, 290, 'title');
addLabel('PressBaratronReac', 571, 282, 'title');
addLabel('PressSubstrateBack', 936, 282, 'title');
addLabel('value', 32, 148, 'axis ylab');
addLabel('value', 15, 418, 'axis ylab');
addLabel('% of run', 211, 548, 'axis');
addLabel('% of run', 570, 547, 'axis');
addLabel('% of run', 936, 548, 'axis');
</script>

<div id="legend">
  <div style="left:6px; top:8px; width:41px; height:16px; background:#d3d3d3;"></div>
  <div class="txt" style="left:63px; top:16px; font-size:19px; color:#333;">±3σ envelope</div>
  <div style="left:6px; top:45px; width:44px; height:5px; background:#4682b4;"></div>
  <div class="txt" style="left:63px; top:47px; font-size:24px; color:#000; font-family:'Liberation Sans', sans-serif;">references</div>
  <div style="left:6px; top:74px; width:44px; height:5px; background:#ff0000;"></div>
  <div class="txt" style="left:63px; top:75px; font-size:24px; color:#000; font-family:'Liberation Sans', sans-serif;">outlier</div>
</div>
</body>
</html>
